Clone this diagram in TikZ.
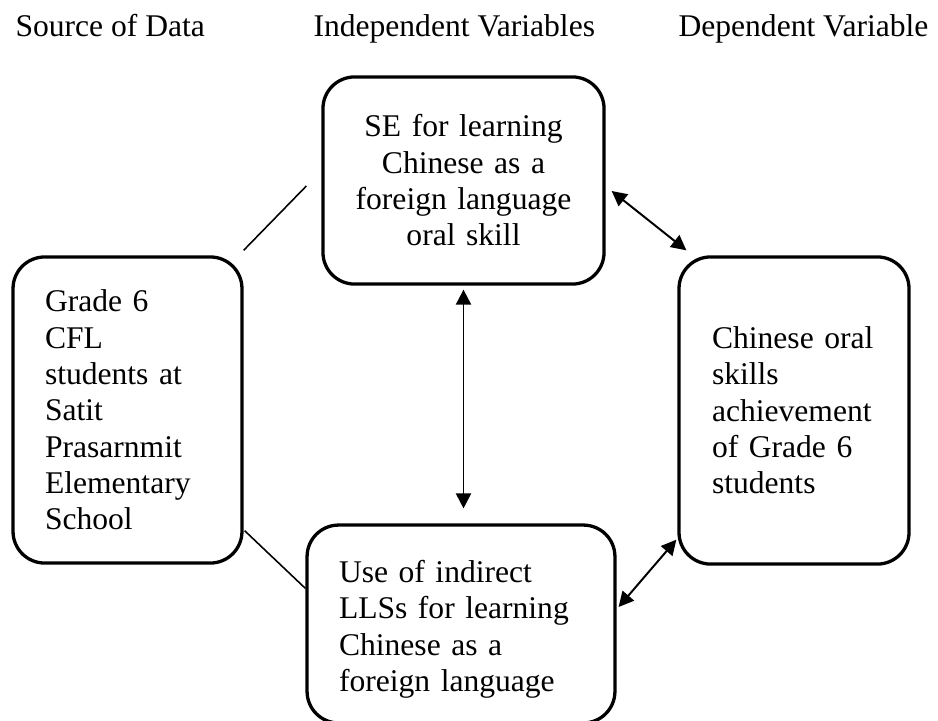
\documentclass[tikz,border=0pt]{standalone}
\usepackage{fontspec}
\setmainfont{Liberation Serif}
\usetikzlibrary{arrows.meta}

\tikzset{
  box/.style={draw, line width=1.25pt, rounded corners=12pt, inner sep=0pt,
    font=\fontsize{12}{13.8}\selectfont},
  head/.style={anchor=base west, inner sep=0pt, font=\fontsize{12}{13.8}\selectfont},
  biarrow/.style={line width=0.75pt,
    {Triangle[length=5.7pt,width=5.7pt]}-{Triangle[length=5.7pt,width=5.7pt]}},
  link/.style={line width=0.6pt}
}

\begin{document}
\begin{tikzpicture}[x=0.38pt, y=-0.38pt]
\useasboundingbox (0,0) rectangle (938,720);

% column titles
\node[head] (hsrc) at (15,37) {Source of Data};
\node[head] (hind) at (313,37) {Independent Variables};
\node[head] (hdep) at (678,37) {Dependent Variable};

% the four boxes
\node[box, minimum width=87pt, minimum height=116.3pt, text width=62.7pt, align=left]
  (src) at (127.5,410) {Grade 6\\CFL\\students at\\Satit\\Prasarnmit\\Elementary\\School};
\node[box, minimum width=106.8pt, minimum height=78.7pt, text width=100pt, align=center]
  (se) at (463.5,180.5) {SE for learning\\Chinese as a\\foreign language\\oral skill};
\node[box, minimum width=117pt, minimum height=75.2pt, text width=92.7pt, align=left]
  (lls) at (461,624) {\rule{0pt}{12.5pt}Use of indirect\\LLSs for learning\\Chinese as a\\foreign language};
\node[box, minimum width=87.4pt, minimum height=116.7pt, text width=62.3pt, align=left]
  (dv) at (794,410.5) {Chinese oral\\skills\\achievement\\of Grade 6\\students};

% links from the source
\draw[link] ([shift={(0,-5)}]src.north east) -- ([shift={(-15,5.5)}]se.west);
\draw[link] ([shift={(1,-34)}]src.south east) -- ([shift={(0,65)}]lls.north west);

% two-way arrows
\draw[biarrow, shorten <=1.5pt, shorten >=5.7pt] (se.south) -- (se.south |- lls.north);
\draw[biarrow] ([shift={(6,10.5)}]se.east) -- ([shift={(9,-5)}]dv.north west);
\draw[biarrow] ([shift={(-1,-26)}]dv.south west) -- ([shift={(2,-17)}]lls.east);
\end{tikzpicture}
\end{document}
